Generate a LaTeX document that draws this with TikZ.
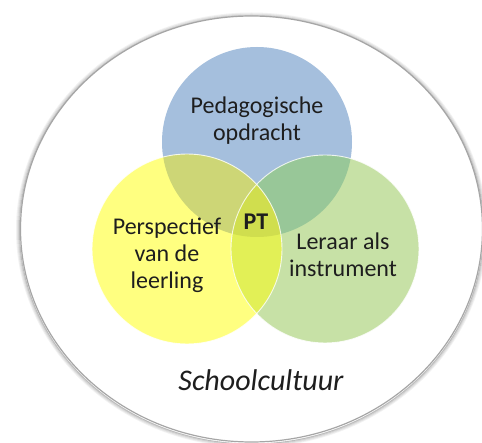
\documentclass[tikz,border=0pt]{standalone}
\usepackage{fontspec}
\setmainfont{Carlito}
\usepackage{xcolor}
\usetikzlibrary{calc, positioning}
\definecolor{pedblue}{RGB}{165,191,221}
\definecolor{leerlingyellow}{RGB}{255,255,128}
\definecolor{leraargreen}{RGB}{199,225,166}
\definecolor{blueyellow}{RGB}{205,214,118}
\definecolor{bluegreen}{RGB}{152,199,152}
\definecolor{yellowgreen}{RGB}{226,240,86}
\definecolor{allthree}{RGB}{208,222,78}
\definecolor{textdark}{RGB}{30,30,30}
\tikzset{
  venntext/.style={align=center, text=textdark, font=\fontsize{24}{27}\selectfont},
  rim/.style={draw=white, line width=0.9pt, opacity=0.8}
}

\begin{document}
\begin{tikzpicture}[x=1pt, y=-1pt]
    \useasboundingbox (0,0) rectangle (482,443);

    % Outer culture ellipse with soft shadow
    \foreach \d/\o in {4/0.05, 3/0.10, 2/0.16, 1/0.25}
        \draw[line width=1pt, black, opacity=\o] (251.5,230) ellipse ({231+\d} and {213+\d});
    \draw[fill=white, draw=gray!70, line width=1.2pt] (251.5,229) ellipse (231 and 213);

    % The three circles
    \fill[pedblue] (257,142) circle (95);
    \fill[leerlingyellow] (187,249) circle (95);
    \fill[leraargreen] (325,249) circle (94);

    % Overlaps
    \begin{scope}
        \clip (257,142) circle (95);
        \fill[blueyellow] (187,249) circle (95);
        \fill[bluegreen] (325,249) circle (94);
    \end{scope}
    \begin{scope}
        \clip (187,249) circle (95);
        \fill[yellowgreen] (325,249) circle (94);
        \clip (325,249) circle (94);
        \fill[allthree] (257,142) circle (95);
    \end{scope}

    % White rims
    \draw[rim] (187,249) circle (95);
    \draw[rim] (325,249) circle (94);

    % Labels
    \node[venntext] (ped) at (257,121) {Pedagogische\\opdracht};
    \node[venntext] (persp) at (167,255) {Perspectief\\van de\\leerling};
    \node[venntext] (leraar) at (343,255) {Leraar als\\instrument};
    \node[venntext, font=\fontsize{24}{27}\selectfont\bfseries] (pt) at (256,222) {PT};
    \node[text=textdark, font=\fontsize{30}{34}\selectfont\itshape] (cultuur) at (261,380) {Schoolcultuur};
\end{tikzpicture}
\end{document}
